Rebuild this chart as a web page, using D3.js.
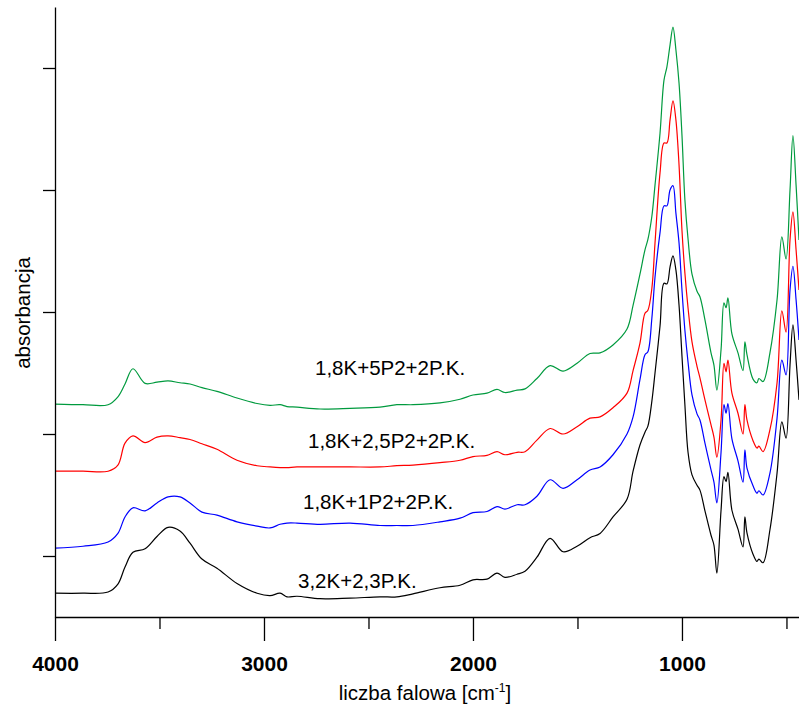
<!DOCTYPE html>
<html><head><meta charset="utf-8">
<script src="https://cdn.jsdelivr.net/npm/d3@7"></script>
<style>body{margin:0;background:#fff}svg{display:block}</style>
</head><body>
<svg id="c" width="799" height="708"></svg>
<script>
const wavenumbers = [4000,3866,3746,3699,3665,3627,3569,3512,3459,3402,
3354,3297,3225,3129,3033,2971,2923,2890,2842,2732,
2588,2445,2364,2287,2158,2062,2000,1933,1885,1847,
1789,1751,1694,1631,1569,1502,1440,1392,1330,1263,
1234,1201,1177,1163,1144,1129,1105,1086,1072,1057,
1043,1029,1014,1000,986,971,952,928,914,890,
861,847,833,813,799,789,780,761,732,708,
699,689,660,641,632,612,579,545,522,502,
483,469,454,440];

const seriesNames = ["1,8K+5P2+2P.K.", "1,8K+2,5P2+2P.K.", "1,8K+1P2+2P.K.", "3,2K+2,3P.K."];

const green = [.349,.348,.348,.361,.382,.407,.383,.385,.387,.384,
.382,.376,.370,.359,.350,.347,.348,.345,.344,.341,
.342,.344,.348,.348,.351,.357,.364,.367,.373,.368,
.372,.374,.391,.412,.403,.416,.432,.433,.446,.472,
.511,.562,.602,.619,.657,.708,.793,.880,.902,.938,
.967,.930,.875,.790,.684,.620,.562,.534,.525,.487,
.433,.413,.372,.438,.515,.507,.523,.464,.433,.404,
.451,.430,.390,.384,.391,.386,.433,.520,.623,.587,
.700,.789,.708,.618];

const red = [.239,.239,.239,.249,.285,.297,.286,.295,.297,.294,
.291,.284,.275,.257,.248,.246,.245,.245,.246,.246,
.246,.246,.248,.249,.253,.257,.263,.265,.271,.266,
.270,.271,.290,.309,.300,.312,.326,.328,.343,.367,
.404,.449,.498,.503,.539,.613,.728,.777,.777,.815,
.846,.815,.741,.634,.564,.507,.451,.411,.392,.356,
.315,.295,.262,.323,.416,.402,.421,.367,.334,.300,
.348,.323,.289,.277,.280,.271,.307,.384,.502,.467,
.618,.664,.602,.536];

const blue = [.113,.116,.123,.137,.164,.179,.174,.187,.197,.197,
.187,.172,.167,.156,.149,.146,.152,.154,.154,.152,
.154,.150,.150,.150,.156,.162,.171,.173,.181,.177,
.184,.184,.198,.225,.211,.225,.241,.246,.266,.300,
.328,.389,.430,.435,.490,.557,.630,.674,.674,.700,
.707,.662,.613,.536,.470,.418,.364,.333,.323,.285,
.241,.221,.187,.270,.348,.334,.350,.292,.256,.221,
.274,.244,.215,.203,.207,.200,.236,.326,.421,.397,
.536,.575,.520,.454];

const black = [.039,.039,.041,.054,.082,.106,.112,.132,.147,.141,
.121,.095,.080,.055,.039,.035,.039,.033,.034,.030,
.031,.033,.033,.038,.048,.052,.061,.062,.072,.065,
.070,.075,.098,.129,.107,.116,.130,.137,.164,.193,
.239,.282,.303,.313,.354,.400,.477,.547,.546,.574,
.592,.569,.511,.428,.348,.270,.233,.216,.208,.174,
.134,.118,.072,.175,.230,.222,.237,.175,.144,.115,
.164,.138,.103,.091,.095,.089,.143,.236,.320,.293,
.413,.479,.421,.356];

const xMajorTicks = [4000, 3000, 2000, 1000];
const xMinorTicks = [3500, 2500, 1500, 500];
const yTicks = [0.1, 0.3, 0.5, 0.7, 0.9];
const xTitle = "liczba falowa [cm";
const xTitleSup = "-1";
const yTitle = "absorbancja";

const svg = d3.select("#c");
const x = d3.scaleLinear().domain([4000, 440]).range([55, 799]);
const y = d3.scaleLinear().domain([0, 1]).range([617, 7]);

svg.append("defs").append("clipPath").attr("id", "clip")
  .append("rect").attr("x", 55).attr("y", 0).attr("width", 744).attr("height", 617);

const series = [
  {name: seriesNames[0], values: green, color: "#009a3e", lx: 315, ly: 375},
  {name: seriesNames[1], values: red, color: "#ff0000", lx: 308, ly: 448},
  {name: seriesNames[2], values: blue, color: "#0000ff", lx: 303, ly: 509},
  {name: seriesNames[3], values: black, color: "#000000", lx: 298, ly: 588}
];

const line = d3.line()
  .x(d => x(d[0])).y(d => y(d[1]))
  .curve(d3.curveCatmullRom.alpha(0.5));

const g = svg.append("g").attr("clip-path", "url(#clip)");
series.forEach(s => {
  g.append("path")
    .datum(wavenumbers.map((w, i) => [w, s.values[i]]))
    .attr("fill", "none").attr("stroke", s.color).attr("stroke-width", 1.2)
    .attr("d", line);
});

series.forEach(s => {
  svg.append("text").attr("x", s.lx).attr("y", s.ly)
    .attr("font-family", "Liberation Sans, Arial, sans-serif")
    .attr("font-size", 20.5).attr("fill", "#000").text(s.name);
});

// bottom axis
const xAxis = svg.append("g").attr("transform", "translate(0,617)")
  .call(d3.axisBottom(x).tickValues(xMajorTicks).tickSize(24).tickSizeOuter(0)
    .tickPadding(15).tickFormat(d3.format("d")));
xAxis.selectAll("text").attr("font-family", "Liberation Sans, Arial, sans-serif")
  .attr("font-size", 21).attr("font-weight", "bold").attr("fill", "#000");
const xMinor = svg.append("g").attr("transform", "translate(0,617)")
  .call(d3.axisBottom(x).tickValues(xMinorTicks).tickSize(12).tickSizeOuter(0).tickFormat(""));
xMinor.select(".domain").remove();

// left axis
svg.append("g").attr("transform", "translate(55,0)")
  .call(d3.axisLeft(y).tickValues(yTicks).tickSize(12).tickSizeOuter(0).tickFormat(""));

svg.selectAll(".domain, .tick line").attr("stroke", "#000").attr("stroke-width", 1.3);

const xt = svg.append("text").attr("x", 425).attr("y", 700).attr("text-anchor", "middle")
  .attr("font-family", "Liberation Sans, Arial, sans-serif").attr("font-size", 20.5).attr("fill", "#000");
xt.append("tspan").text(xTitle);
xt.append("tspan").attr("font-size", 12).attr("dy", -8).text(xTitleSup);
xt.append("tspan").attr("dy", 8).text("]");

svg.append("text").attr("transform", "translate(30,313) rotate(-90)")
  .attr("text-anchor", "middle")
  .attr("font-family", "Liberation Sans, Arial, sans-serif").attr("font-size", 20.5).attr("fill", "#000")
  .text(yTitle);
</script>
</body></html>
